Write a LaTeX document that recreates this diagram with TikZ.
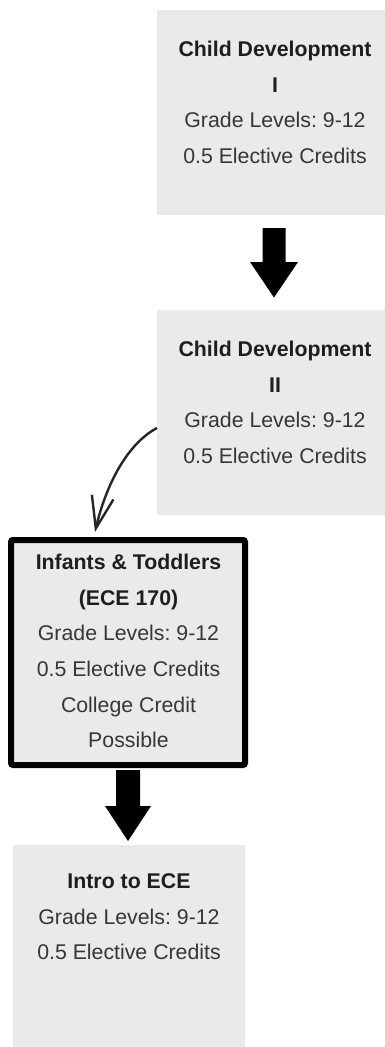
\documentclass[tikz,border=0pt]{standalone}
\usepackage{fontspec}
\setmainfont{Liberation Sans}
\usetikzlibrary{arrows.meta,calc,bending}
\definecolor{boxgray}{HTML}{EAEAEA}
\definecolor{titlecol}{HTML}{1E1E1E}
\definecolor{bodycol}{HTML}{363636}
\frenchspacing
\begin{document}
\begin{tikzpicture}[x=1pt,y=-1pt,
  course/.style={fill=boxgray, draw=none, inner sep=0pt, outer sep=0pt},
  keycourse/.style={fill=boxgray, draw=black, line width=6pt, rounded corners=2pt, inner sep=0pt, outer sep=0pt},
  coursetext/.style={anchor=north, inner sep=0pt, align=center, font=\fontsize{21.3}{35.6}\selectfont, text=bodycol},
  blockarrow/.style={fill=black},
  flowcurve/.style={draw=black!85, line width=2.4pt, -{Straight Barb[length=32pt,width=22pt,line width=2.4pt]}}
]
\useasboundingbox (0,0) rectangle (384,1047);

% boxes
\node[course, minimum width=236pt, minimum height=205pt] (b1) at (275,112.5) {};
\node[course, minimum width=236pt, minimum height=205pt] (b2) at (275,412.5) {};
\node[keycourse, minimum width=234pt, minimum height=225pt] (b3) at (128,652.5) {};
\node[course, minimum width=232pt, minimum height=230pt] (b4) at (129,960) {};

% texts
\node[coursetext] (t1) at ($(b1.north)+(0,31)$) {\textbf{\color{titlecol}Child Development}\\\textbf{\color{titlecol}I}\\Grade Levels: 9-12\\0.5 Elective Credits};
\node[coursetext] (t2) at ($(b2.north)+(0,31)$) {\textbf{\color{titlecol}Child Development}\\\textbf{\color{titlecol}II}\\Grade Levels: 9-12\\0.5 Elective Credits};
\node[coursetext] (t3) at ($(b3.north)+(0.5,14)$) {\textbf{\color{titlecol}Infants \& Toddlers}\\\textbf{\color{titlecol}(ECE 170)}\\Grade Levels: 9-12\\0.5 Elective Credits\\College Credit\\Possible};
\node[coursetext] (t4) at ($(b4.north)+(0,28.5)$) {\textbf{\color{titlecol}Intro to ECE}\\Grade Levels: 9-12\\0.5 Elective Credits};

% block arrow 1
\coordinate (a1s) at ($(b1.south)+(-1,13)$);
\coordinate (a1t) at ($(b2.north)+(-1,-12.5)$);
\fill[blockarrow] ($(a1s)+(-11.5,0)$) -- ($(a1s)+(11.5,0)$) -- ($(a1s)+(11.5,34)$) -- ($(a1s)+(24,34)$) -- (a1t) -- ($(a1s)+(-24,34)$) -- ($(a1s)+(-11.5,34)$) -- cycle;

% block arrow 2
\coordinate (a2s) at ($(b3.south)+(0,5)$);
\coordinate (a2t) at ($(b4.north)+(-1,-4)$);
\fill[blockarrow] ($(a2s)+(-12,0)$) -- ($(a2s)+(12,0)$) -- ($(a2s)+(12,36)$) -- ($(a2s)+(23,36)$) -- (a2t) -- ($(a2s)+(-23,36)$) -- ($(a2s)+(-12,36)$) -- cycle;

% curved arrow
\coordinate (cs) at ($(b2.west)+(0,15.5)$);
\coordinate (ct) at ($(b3.north)+(-33,-8)$);
\draw[flowcurve] (cs) .. controls ($(cs)+(-32,17)$) and ($(ct)+(9,-42)$) .. (ct);
\end{tikzpicture}
\end{document}
